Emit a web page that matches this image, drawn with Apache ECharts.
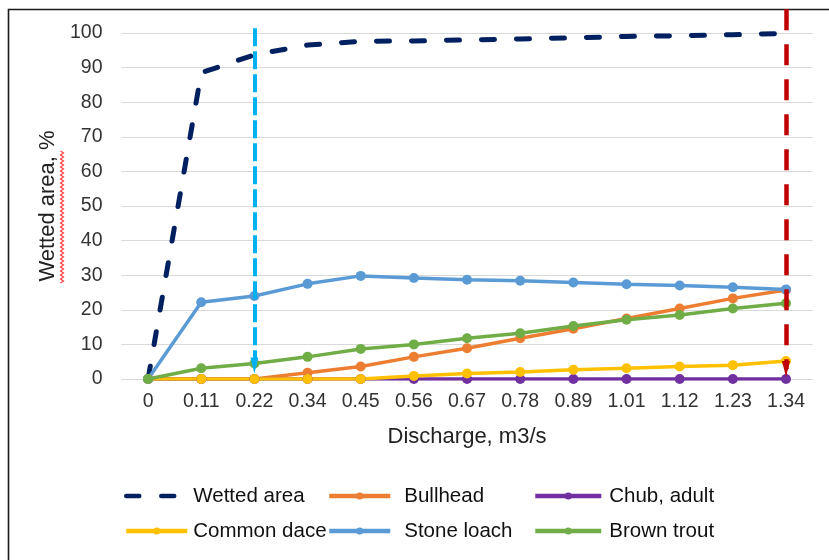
<!DOCTYPE html>
<html>
<head>
<meta charset="utf-8">
<script src="https://cdn.jsdelivr.net/npm/echarts@6/dist/echarts.min.js"></script>
<style>
  html, body { margin: 0; padding: 0; background: #fff; }
  #chart { width: 829px; height: 560px; }
</style>
</head>
<body>
<div id="chart"></div>
<script>
// Discharge steps (m3/s)
const categories = ['0', '0.11', '0.22', '0.34', '0.45', '0.56', '0.67', '0.78', '0.89', '1.01', '1.12', '1.23', '1.34'];

// Share of the channel / habitat wetted at each discharge, %
const wettedArea = [0, 88.5, 93.7, 96.5, 97.6, 97.7, 98.0, 98.3, 98.6, 99.0, 99.2, 99.5, 99.9];
const bullhead   = [0, 0, 0, 1.8, 3.6, 6.4, 8.9, 11.8, 14.5, 17.5, 20.4, 23.3, 25.7];
const chubAdult  = [0, 0, 0, 0, 0, 0, 0, 0, 0, 0, 0, 0, 0];
const commonDace = [0, 0, 0, 0, 0, 0.9, 1.6, 2.0, 2.7, 3.1, 3.6, 4.0, 5.2];
const stoneLoach = [0, 22.2, 24.0, 27.5, 29.8, 29.2, 28.7, 28.4, 27.9, 27.4, 27.0, 26.5, 25.9];
const brownTrout = [0, 3.1, 4.5, 6.4, 8.7, 10.0, 11.8, 13.2, 15.3, 17.1, 18.5, 20.4, 21.9];

// Y axis ticks
const yMin = 0, yMax = 100, yStep = 10;

// Reference discharges marked with arrows: [category, top value, arrow value]
const lowFlowMark  = ['0.22', 101.4, 3.9];
const fullFlowMark = ['1.34', 106.9, 2.9];

const chart = echarts.init(document.getElementById('chart'), null, { renderer: 'canvas' });

const FONT = '"Liberation Sans", Arial, sans-serif';
const gridTop = 33, gridBottom = 181, gridLeft = 121.5, gridRight = 16.4;
const chartH = 560;
const plotH = chartH - gridTop - gridBottom;
const markTop = 9;
// second, hidden grid reaching up to the frame, with the same value-per-pixel scale
const markMax = (chartH - gridBottom - markTop) * (yMax - yMin) / plotH;

function fishSeries(name, data, color) {
  return {
    name: name,
    type: 'line',
    data: data,
    symbol: 'circle',
    symbolSize: 10,
    showAllSymbol: true,
    lineStyle: { color: color, width: 3.5 },
    itemStyle: { color: color },
    emphasis: { disabled: true },
    animation: false
  };
}

const legendText = { fontFamily: FONT, fontSize: 20.5, color: '#111', lineHeight: 24 };

function legendColumn(names, left, itemWidth, pad) {
  return {
    orient: 'vertical',
    left: left,
    top: 484,
    itemWidth: itemWidth,
    itemHeight: 9,
    itemGap: 11,
    padding: 0,
    selectedMode: false,
    lineStyle: { width: 4.5 },
    data: names,
    textStyle: Object.assign({ padding: [0, 0, 0, pad] }, legendText)
  };
}

// wavy spell-check underline next to the rotated axis title
const squiggle = [];
for (let y = 283, i = 0; y >= 150; y -= 2, i++) {
  squiggle.push([i % 2 ? 63.5 : 60.5, y]);
}

const option = {
  backgroundColor: '#fff',
  animation: false,
  grid: [
    { left: gridLeft, right: gridRight, top: gridTop, bottom: gridBottom, containLabel: false },
    { left: gridLeft, right: gridRight, top: markTop, bottom: gridBottom, containLabel: false }
  ],
  xAxis: [
    {
      type: 'category',
      data: categories,
      gridIndex: 0,
      boundaryGap: true,
      axisLine: { show: true, lineStyle: { color: '#d9d9d9', width: 1 } },
      axisTick: { show: false },
      axisLabel: { fontFamily: FONT, fontSize: 19.5, color: '#333', margin: 13, interval: 0 },
      name: 'Discharge, m3/s',
      nameLocation: 'middle',
      nameGap: 47,
      nameTextStyle: { fontFamily: FONT, fontSize: 22, color: '#222' }
    },
    {
      type: 'category',
      data: categories,
      gridIndex: 1,
      boundaryGap: true,
      show: false
    }
  ],
  yAxis: [
    {
      type: 'value',
      gridIndex: 0,
      min: yMin,
      max: yMax,
      interval: yStep,
      axisLine: { show: false },
      axisTick: { show: false },
      splitLine: { show: true, lineStyle: { color: '#d9d9d9', width: 1 } },
      axisLabel: { fontFamily: FONT, fontSize: 19.5, color: '#333', margin: 19 },
      name: 'Wetted area, %',
      nameLocation: 'middle',
      nameGap: 60,
      nameRotate: 90,
      nameTextStyle: { fontFamily: FONT, fontSize: 22, color: '#222' }
    },
    {
      type: 'value',
      gridIndex: 1,
      min: 0,
      max: markMax,
      show: false,
      splitLine: { show: false }
    }
  ],
  legend: [
    legendColumn([
      { name: 'Wetted area', itemStyle: { opacity: 0 } },
      'Common dace'
    ], 124, 61, 1),
    legendColumn(['Bullhead', 'Stone loach'], 327, 61, 9),
    legendColumn(['Chub, adult', 'Brown trout'], 533, 66, 3)
  ],
  series: [
    {
      name: 'Wetted area',
      type: 'line',
      data: wettedArea,
      symbol: 'none',
      lineStyle: { color: '#002060', width: 5, type: [13, 22], cap: 'round' },
      itemStyle: { color: '#002060' },
      emphasis: { disabled: true }
    },
    fishSeries('Bullhead', bullhead, '#ED7D31'),
    fishSeries('Chub, adult', chubAdult, '#7030A0'),
    fishSeries('Common dace', commonDace, '#FFC000'),
    fishSeries('Stone loach', stoneLoach, '#5B9BD5'),
    fishSeries('Brown trout', brownTrout, '#70AD47'),
    {
      name: 'flow marks',
      type: 'line',
      xAxisIndex: 1,
      yAxisIndex: 1,
      data: [],
      silent: true,
      markLine: {
        silent: true,
        animation: false,
        label: { show: false },
        emphasis: { disabled: true },
        symbol: ['none', 'triangle'],
        data: [
          [
            { coord: [lowFlowMark[0], lowFlowMark[1]], symbolSize: [10, 15],
              lineStyle: { color: '#00B0F0', width: 4, type: [18, 5] },
              itemStyle: { color: '#00B0F0' } },
            { coord: [lowFlowMark[0], lowFlowMark[2]] }
          ],
          [
            { coord: [fullFlowMark[0], fullFlowMark[1]], symbolSize: [11, 13],
              lineStyle: { color: '#C00000', width: 4.5, type: [21, 14] },
              itemStyle: { color: '#C00000' } },
            { coord: [fullFlowMark[0], fullFlowMark[2]] }
          ]
        ]
      }
    }
  ],
  graphic: [
    {
      type: 'rect',
      shape: { x: 8.5, y: 9.5, width: 900, height: 700 },
      style: { fill: null, stroke: '#1a1a1a', lineWidth: 1.6 },
      silent: true
    },
    {
      type: 'polyline',
      shape: { points: squiggle },
      style: { fill: null, stroke: '#ff4040', lineWidth: 1.2 },
      silent: true
    }
  ]
};

chart.setOption(option);
</script>
</body>
</html>
